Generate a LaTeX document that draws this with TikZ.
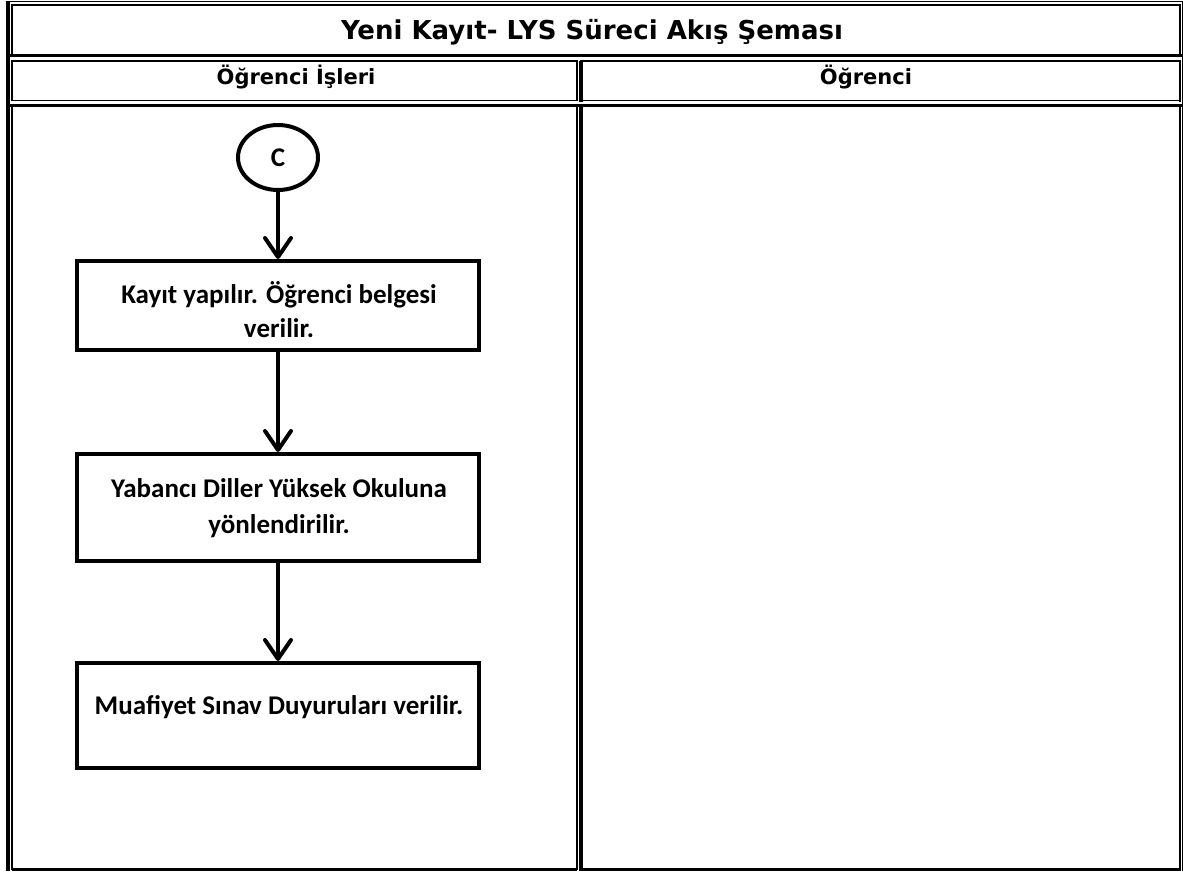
\documentclass[tikz,border=0pt]{standalone}
\usepackage{fontspec}
\setmainfont{Carlito}
\newfontfamily\verd{DejaVu Sans}
\usetikzlibrary{arrows.meta,shapes.geometric}
\begin{document}
\begin{tikzpicture}[x=1pt,y=-1pt,
  thinl/.style={line width=1.4pt,line cap=rect},
  thickl/.style={line width=3.5pt,line cap=rect},
  stepbox/.style={draw,line width=4pt,rectangle,minimum width=402pt,inner sep=0pt},
  boxtext/.style={font=\bfseries\fontsize{27}{32}\selectfont,anchor=base,inner sep=0pt},
  hdr/.style={font=\verd\bfseries\fontsize{21}{25}\selectfont,anchor=base,inner sep=0pt},
  conn/.style={line width=4pt,-{Straight Barb[length=19pt,width=26pt,round]}}]
\fill[white] (0,0) rectangle (1183,873);
\useasboundingbox (0,0) rectangle (1183,873);
% table frame
\draw[thinl] (7,1.5) -- (1182,1.5);
\draw[line width=4pt] (8,1) -- (8,871);
\draw[line width=1.2pt] (1182.4,1) -- (1182.4,871);
% title cell
\draw[thinl] (11.8,5) -- (1180,5);
\draw[thinl] (11.8,5) -- (11.8,55.5);
\draw[thickl] (11.8,55.5) -- (1180,55.5);
\draw[line width=2.6pt] (1180,5) -- (1180,57);
% row 2
\draw[thinl] (11.8,60.8) -- (577,60.8);
\draw[thinl] (581,60.8) -- (1180,60.8);
\draw[thinl] (11.8,60.8) -- (11.8,100.5);
\draw[thinl] (577,60.8) -- (577,100.5);
\draw[line width=4pt] (581,60.5) -- (581,102);
\draw[line width=2.6pt] (1180,60.5) -- (1180,102);
\draw[thinl] (11.8,100.5) -- (577,100.5);
\draw[thinl] (581,100.5) -- (1180,100.5);
% row 3
\draw[thickl] (11.8,105.5) -- (577,105.5);
\draw[thickl] (581,105.5) -- (1180,105.5);
\draw[thinl] (11.8,105.5) -- (11.8,869.5);
\draw[thinl] (577,105.5) -- (577,869.5);
\draw[line width=4pt] (581,104) -- (581,871);
\draw[line width=2.6pt] (1180,104) -- (1180,871);
\draw[line width=3pt] (11.8,869.5) -- (577,869.5);
\draw[line width=3pt] (581,869.5) -- (1180,869.5);
% texts of header
\node[font=\verd\bfseries\fontsize{26}{31}\selectfont,anchor=base,inner sep=0pt] (title) at (592,39) {Yeni Kayıt- LYS Süreci Akış Şeması};
\node[hdr] (h1) at (296,84) {Öğrenci İşleri};
\node[hdr] (h2) at (866,84) {Öğrenci};
% flowchart
\node[draw,ellipse,line width=4pt,minimum width=80pt,minimum height=65pt,inner sep=0pt,font=\bfseries\fontsize{27}{32}\selectfont] (c) at (278,157.5) {C};
\node[stepbox,minimum height=89pt] (b1) at (278,305.5) {};
\node[boxtext] (t1a) at (279,303) {Kayıt yapılır. Öğrenci belgesi};
\node[boxtext] (t1b) at (279,337) {verilir.};
\node[stepbox,minimum height=107pt] (b2) at (278,507.5) {};
\node[boxtext] (t2a) at (279,497) {Yabancı Diller Yüksek Okuluna};
\node[boxtext] (t2b) at (279,533) {yönlendirilir.};
\node[stepbox,minimum height=105pt] (b3) at (278,715.5) {};
\node[boxtext] (t3) at (279,714) {Muafiyet Sınav Duyuruları verilir.};
\draw[conn] (c.south) -- (b1.north);
\draw[conn] (b1.south) -- (b2.north);
\draw[conn] (b2.south) -- (b3.north);
\end{tikzpicture}
\end{document}
